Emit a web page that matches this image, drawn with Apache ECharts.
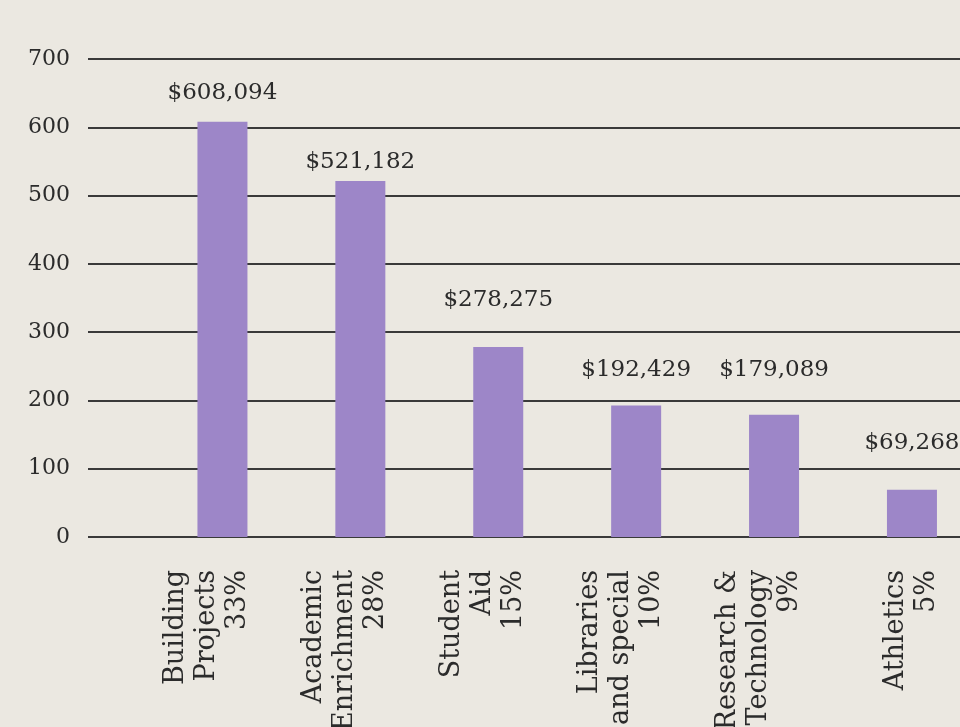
<!DOCTYPE html>
<html>
<head>
<meta charset="utf-8">
<script src="https://cdn.jsdelivr.net/npm/echarts@6/dist/echarts.min.js"></script>
<style>
  html, body { margin: 0; padding: 0; background: #ebe8e1; }
  #chart { width: 960px; height: 727px; }
</style>
</head>
<body>
<div id="chart"></div>
<script>
  // gift totals by purpose (dollars)
  var categories = ['Building\nProjects', 'Academic\nEnrichment', 'Student\nAid', 'Libraries\nand special', 'Research &\nTechnology', 'Athletics']
  var shares = ['33%', '28%', '15%', '10%', '9%', '5%']
  var amounts = [608094, 521182, 278275, 192429, 179089, 69268]
  var yMin = 0
  var yMax = 700
  var yStep = 100

  // label distance above each bar, the print layout is not uniform
  var labelGaps = [17, 8, 35, 24, 33, 35]

  var serif = '"DejaVu Serif", "Liberation Serif", serif'
  var ink = '#2b2b2b'

  // rotated labels are centred on the tick; an extra blank line on the
  // two-line names pushes the block left, as in the print
  var xData = categories.map(function (c, i) {
    var text = c + '\n' + shares[i]
    if (c.indexOf('\n') >= 0) text += '\n '
    return text
  })

  var barData = amounts.map(function (v, i) {
    return {
      value: v / 1000,
      label: { distance: labelGaps[i] }
    }
  })

  var chart = echarts.init(document.getElementById('chart'), null, { renderer: 'canvas' })

  var option = {
    backgroundColor: '#ebe8e1',
    animation: false,
    grid: [
      { left: 88, right: 0, top: 59, bottom: 190, outerBoundsMode: 'none', containLabel: false },
      { left: 153.5, width: 827.4, top: 59, bottom: 190, outerBoundsMode: 'none', containLabel: false }
    ],
    xAxis: [
      { gridIndex: 0, type: 'category', data: [], show: false },
      {
        gridIndex: 1,
        type: 'category',
        data: xData,
        axisLine: { show: false },
        axisTick: { show: false },
        axisLabel: {
          rotate: 90,
          margin: 33,
          interval: 0,
          fontFamily: serif,
          fontSize: 27,
          lineHeight: 31,
          color: ink
        }
      }
    ],
    yAxis: [
      {
        gridIndex: 0,
        type: 'value',
        min: yMin,
        max: yMax,
        interval: yStep,
        axisLine: { show: false },
        axisTick: { show: false },
        axisLabel: { margin: 18, fontFamily: serif, fontSize: 22, color: ink },
        splitLine: { lineStyle: { color: '#3a3a3a', width: 2 } }
      },
      { gridIndex: 1, type: 'value', min: yMin, max: yMax, show: false }
    ],
    series: [
      {
        type: 'bar',
        xAxisIndex: 1,
        yAxisIndex: 1,
        data: barData,
        barWidth: 50,
        itemStyle: { color: '#9d86c8' },
        label: {
          show: true,
          position: 'top',
          fontFamily: serif,
          fontSize: 23,
          color: ink,
          formatter: function (p) {
            return '$' + amounts[p.dataIndex].toLocaleString('en-US')
          }
        }
      }
    ]
  }

  chart.setOption(option)
</script>
</body>
</html>
